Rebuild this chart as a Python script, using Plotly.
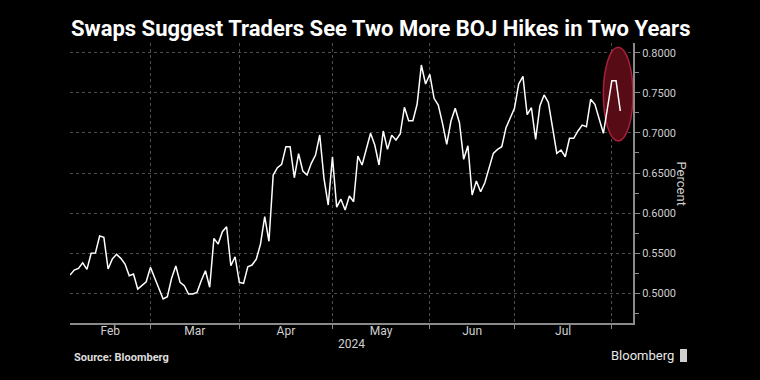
import numpy as np
import pandas as pd
import plotly.graph_objects as go

# ---- data -------------------------------------------------------------
start_date = "2024-02-05"
values = [
    0.5228, 0.5290, 0.5311, 0.5381, 0.5299, 0.5499, 0.5502, 0.5714, 0.5698, 0.5303,
    0.5428, 0.5486, 0.5436, 0.5365, 0.5219, 0.5240, 0.5053, 0.5103, 0.5144, 0.5324,
    0.5194, 0.5066, 0.4929, 0.4957, 0.5187, 0.5340, 0.5137, 0.5095, 0.4991, 0.4991,
    0.5012, 0.5157, 0.5282, 0.5075, 0.5685, 0.5614, 0.5768, 0.5830, 0.5344, 0.5456,
    0.5137, 0.5124, 0.5332, 0.5353, 0.5424, 0.5614, 0.5955, 0.5649, 0.6475, 0.6566,
    0.6608, 0.6828, 0.6828, 0.6441, 0.6741, 0.6525, 0.6475, 0.6621, 0.6724, 0.6974,
    0.6434, 0.6101, 0.6703, 0.6075, 0.6174, 0.6040, 0.6213, 0.6142, 0.6712, 0.6600,
    0.6787, 0.6995, 0.6849, 0.6600, 0.7024, 0.6795, 0.6970, 0.6911, 0.6986, 0.7319,
    0.7152, 0.7152, 0.7357, 0.7847, 0.7610, 0.7731, 0.7431, 0.7348, 0.7120, 0.6858,
    0.7148, 0.7307, 0.7127, 0.6671, 0.6840, 0.6226, 0.6400, 0.6267, 0.6379, 0.6578,
    0.6745, 0.6795, 0.6828, 0.7065, 0.7182, 0.7307, 0.7610, 0.7705, 0.7228, 0.7314,
    0.6920, 0.7335, 0.7473, 0.7381, 0.7065, 0.6745, 0.6787, 0.6703, 0.6933, 0.6933,
    0.7024, 0.7098, 0.7077, 0.7419, 0.7357, 0.7182, 0.6995, 0.7320, 0.7650, 0.7650,
    0.7273,
]
month_labels = ["Feb", "Mar", "Apr", "May", "Jun", "Jul"]
year_label = "2024"
y_ticks = [0.50, 0.55, 0.60, 0.65, 0.70, 0.75, 0.80]

title = "Swaps Suggest Traders See Two More BOJ Hikes in Two Years"
source = "Source: Bloomberg"

# ---- derived positions (business-day index) ---------------------------
dates = pd.bdate_range(start_date, periods=len(values))
idx = np.arange(len(values))
x_max = len(values) + 2  # right padding of the axis

month_id = dates.month
month_starts = [i for i in range(1, len(dates)) if month_id[i] != month_id[i - 1]]
bounds = [0] + month_starts + [x_max]
label_pos = [(bounds[i] + bounds[i + 1]) / 2 for i in range(len(month_labels))]

FONT = "Roboto"
GRID = "#4e4e4e"
AXIS = "#8a8a8a"
TXT = "#cfcfcf"

fig = go.Figure()
fig.add_trace(go.Scatter(
    x=idx, y=values, mode="lines",
    line=dict(color="#ffffff", width=1.5),
    hoverinfo="skip", showlegend=False,
))

# highlighted ellipse around the latest move
fig.add_shape(
    type="circle", xref="x", yref="y",
    x0=len(values) - 5, x1=x_max, y0=0.690, y1=0.8067,
    fillcolor="#560b15", line=dict(color="#a8203a", width=1.5),
    layer="between",
)

fig.update_layout(
    width=760, height=380,
    paper_bgcolor="#000000", plot_bgcolor="#000000",
    margin=dict(l=70, r=127, t=43, b=57),
    font=dict(family=FONT, color=TXT, size=12),
    showlegend=False,
    xaxis=dict(
        range=[0, x_max],
        tickmode="array", tickvals=label_pos, ticktext=month_labels,
        ticks="", ticklen=0, ticklabelstandoff=-4,
        showgrid=False, zeroline=False,
        showline=True, linecolor=AXIS, linewidth=2,
        tickfont=dict(size=12, color=TXT),
        minor=dict(
            tickmode="array", tickvals=month_starts,
            ticks="outside", ticklen=4, tickcolor=AXIS, tickwidth=1,
            showgrid=True, gridcolor=GRID, griddash="dot", gridwidth=1,
        ),
    ),
    yaxis=dict(
        side="right", range=[0.463, 0.8121],
        tickmode="array", tickvals=y_ticks, tickformat=".4f",
        ticks="outside", ticklen=5, tickcolor=AXIS, tickwidth=1,
        showgrid=True, gridcolor=GRID, griddash="dot", gridwidth=1,
        zeroline=False, showline=True, linecolor=AXIS, linewidth=2,
        tickfont=dict(size=11, color=TXT),
        minor=dict(dtick=0.025, tick0=0.5, ticks="outside", ticklen=4,
                   tickcolor=AXIS, showgrid=False),
    ),
)

fig.add_annotation(
    text=title, xref="paper", yref="paper", x=(380 - 70) / 563, y=1.05,
    xanchor="center", yanchor="middle", showarrow=False,
    font=dict(family=FONT, size=22, color="#ffffff", weight="bold"),
)
fig.add_annotation(
    text=year_label, xref="paper", yref="paper", x=0.5, y=(323 - 343.5) / 280,
    xanchor="center", yanchor="middle", showarrow=False,
    font=dict(family=FONT, size=12, color=TXT),
)
fig.add_annotation(
    text="Percent", xref="paper", yref="paper", x=(681.5 - 70) / 563, y=0.5,
    textangle=90, showarrow=False, xanchor="center", yanchor="middle",
    font=dict(family=FONT, size=13, color=TXT),
)
fig.add_annotation(
    text=source, xref="paper", yref="paper", x=0.004, y=(323 - 357) / 280,
    xanchor="left", yanchor="middle", showarrow=False,
    font=dict(family=FONT, size=11, color="#dddddd", weight="bold"),
)
fig.add_annotation(
    text="Bloomberg", xref="paper", yref="paper", x=(676 - 70) / 563, y=(323 - 355) / 280,
    xanchor="right", yanchor="middle", showarrow=False,
    font=dict(family=FONT, size=13, color="#e8e8e8"),
)
fig.add_shape(
    type="rect", xref="paper", yref="paper",
    x0=(680 - 70) / 563, x1=(687 - 70) / 563,
    y0=(323 - 362) / 280, y1=(323 - 349) / 280,
    fillcolor="#cfcfcf", line=dict(width=0),
)

fig.write_html(
    "out.html",
    config={"displayModeBar": False},
    post_script="document.body.style.margin='0';",
)
